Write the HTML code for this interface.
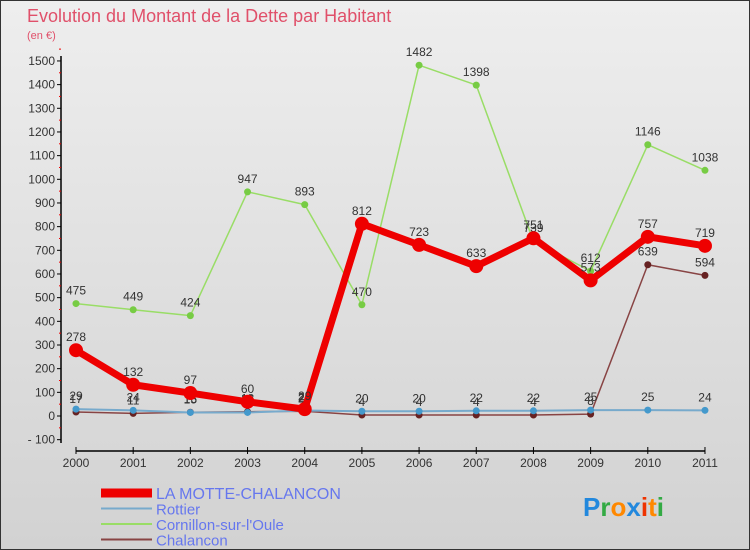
<!DOCTYPE html>
<html><head><meta charset="utf-8"><style>
body{margin:0;}
#c{width:750px;height:550px;position:relative;background:linear-gradient(#eeeeee,#d2d2d2);border:1px solid #333;box-sizing:border-box;overflow:hidden;font-family:"Liberation Sans",sans-serif;}
text{font-family:"Liberation Sans",sans-serif;}
</style></head><body>
<div id="c">
<svg id="s" width="750" height="550" xmlns="http://www.w3.org/2000/svg"></svg>
</div>
<script>
const years=[2000,2001,2002,2003,2004,2005,2006,2007,2008,2009,2010,2011];
const motte=[278,132,97,60,29,812,723,633,751,573,757,719];
const rottier=[29,24,15,15,23,20,20,22,22,25,25,24];
const cornillon=[475,449,424,947,893,470,1482,1398,739,612,1146,1038];
const chalancon=[17,11,16,18,20,4,4,4,4,8,639,594];
const yTicks=[-100,0,100,200,300,400,500,600,700,800,900,1000,1100,1200,1300,1400,1500];
const NS="http://www.w3.org/2000/svg";
const s=document.getElementById('s');
const X=i=>75+i*57.18;
const Y=v=>415-v*0.2367;
function el(t,a,p){const e=document.createElementNS(NS,t);for(const k in a)e.setAttribute(k,a[k]);(p||s).appendChild(e);return e;}
let t=el('text',{x:26,y:21,'font-size':18,fill:'#e0506a'});t.textContent='Evolution du Montant de la Dette par Habitant';

t=el('text',{x:26,y:38,'font-size':11,fill:'#e0506a'});t.textContent='(en €)';

// axes
let a=el('line',{x1:60,y1:55,x2:60,y2:442,stroke:'#000','stroke-width':1.5});

yTicks.forEach(v=>{const y=Y(v);el('line',{x1:56,x2:60,y1:y,y2:y,stroke:'#000'});
el('line',{x1:58,x2:60,y1:Y(v+50),y2:Y(v+50),stroke:'#e00'});
const l=el('text',{x:54,y:y+4,'font-size':12,fill:'#333','text-anchor':'end'});l.textContent=v<0?'- '+(-v):v;
});
a=el('line',{x1:75,y1:450,x2:704,y2:450,stroke:'#000','stroke-width':1.5});

years.forEach((yr,i)=>{el('line',{x1:X(i),x2:X(i),y1:446,y2:453,stroke:'#000'});
const l=el('text',{x:X(i),y:466,'font-size':12,fill:'#333','text-anchor':'middle'});l.textContent=yr;
});
function series(d,col,w,r,name,dot){
const g=el('g',{});
el('polyline',{points:d.map((v,i)=>X(i)+','+Y(v)).join(' '),fill:'none',stroke:col,'stroke-width':w,'stroke-linejoin':'round'},g);
d.forEach((v,i)=>{el('circle',{cx:X(i),cy:Y(v),r:r,fill:dot},g);
const l=el('text',{x:X(i),y:Y(v)-9,'font-size':12,fill:'#333','text-anchor':'middle'},g);l.textContent=v;});}
series(cornillon,'#99dd66',1.5,3.5,'series-cornillon','#77cc44');
series(chalancon,'#884444',1.5,3.5,'series-chalancon','#662222');
series(rottier,'#77aacc',2,3.5,'series-rottier','#4499cc');
series(motte,'#ee0000',7,7,'series-la-motte-chalancon','#ee0000');
// legend
const leg=[['LA MOTTE-CHALANCON','#ee0000',9],['Rottier','#77aacc',2],['Cornillon-sur-l\'Oule','#99dd66',2],['Chalancon','#884444',2]];
leg.forEach((e,i)=>{const y=492+i*15.5;const g=el('g',{});

el('line',{x1:100,x2:151,y1:y,y2:y,stroke:e[1],'stroke-width':e[2]},g);
const l=el('text',{x:155,y:y+6,'font-size':i==0?16:15,fill:'#6677ee'},g);l.textContent=e[0];});
const p=el('text',{x:582,y:515,'font-size':26,'font-weight':'bold'});

[['P','#2288dd'],['r','#33aa44'],['o','#ff8800'],['x','#2288dd'],['i','#ee3300'],['t','#ff8800'],['i','#33aa44']].forEach(c=>{const ts=el('tspan',{fill:c[1]},p);ts.textContent=c[0];});
</script>
</body></html>
